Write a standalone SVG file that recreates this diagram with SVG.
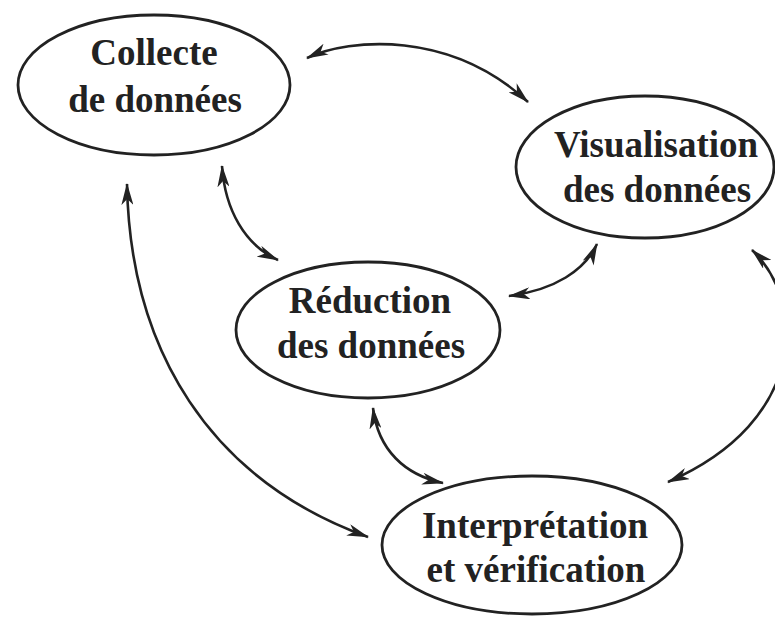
<svg xmlns="http://www.w3.org/2000/svg" width="775" height="618" viewBox="0 0 775 618">
<style>
.node ellipse{fill:none;stroke:#222;stroke-width:2.8}
.node text{font-family:"Liberation Serif","Times New Roman",serif;font-weight:bold;font-size:37px;fill:#222;text-anchor:middle}
.edge{fill:none;stroke:#222;stroke-width:2.6;marker-start:url(#ah);marker-end:url(#ah)}
</style>
<defs>
<marker id="ah" viewBox="0 0 22 12" refX="21" refY="6" markerWidth="22" markerHeight="12" markerUnits="userSpaceOnUse" orient="auto-start-reverse">
<path d="M0 0 L22 6 L0 12 L6 6 Z" fill="#222"/>
</marker>
</defs>
<rect width="775" height="618" fill="#fff"/>
<g id="connectors">
<path class="edge" d="M307 58 C350 38 450 30 528 102"/>
<path class="edge" d="M222 166 C225 210 245 245 278 260"/>
<path class="edge" d="M127 184 C130 350 210 480 368 537"/>
<path class="edge" d="M509 296 C555 290 585 270 597 244"/>
<path class="edge" d="M752 250 C805 300 810 420 668 482"/>
<path class="edge" d="M373 408 C378 450 405 475 443 483"/>
</g>
<g id="collecte" class="node">
<ellipse cx="154" cy="85" rx="136" ry="70"/>
<text x="154" y="65">Collecte</text>
<text x="155" y="112">de données</text>
</g>
<g id="visualisation" class="node">
<ellipse cx="645" cy="167" rx="129" ry="71"/>
<text x="656" y="157">Visualisation</text>
<text x="657" y="202">des données</text>
</g>
<g id="reduction" class="node">
<ellipse cx="368" cy="330" rx="132" ry="68"/>
<text x="370" y="313">Réduction</text>
<text x="371" y="358">des données</text>
</g>
<g id="interpretation" class="node">
<ellipse cx="532" cy="545" rx="150" ry="69"/>
<text x="535" y="538">Interprétation</text>
<text x="536" y="582">et vérification</text>
</g>
</svg>
